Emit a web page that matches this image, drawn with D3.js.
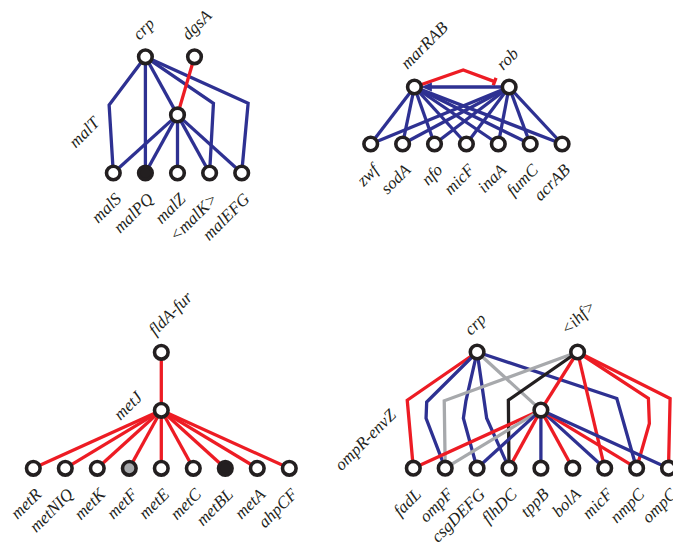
<!DOCTYPE html>
<html>
<head>
<meta charset="utf-8">
<script src="https://cdn.jsdelivr.net/npm/d3@7"></script>
<style>
  body { margin: 0; background: #fff; }
  text { font-family: "Liberation Serif", "Times New Roman", serif; font-style: italic; font-size: 17px; fill: #231f20; }
</style>
</head>
<body>
<svg id="chart" width="673" height="549"></svg>
<script>
// edge types: plus = activation, minus = repression, dual, other
// regulators: [name, column, row] in grid units; genes sit on the last row

// maltose system
var malGenes = ["malS", "malPQ", "malZ", "<malK>", "malEFG"];
var malRegs = [["crp", 1, 0], ["dgsA", 2.53, 0], ["malT", 2, 1]];
var malEdges = [
  ["crp", "malS", "plus", [[-0.13, 0.83]]],
  ["crp", "malPQ", "plus", []],
  ["crp", "malT", "plus", []],
  ["crp", "<malK>", "plus", [[3.12, 0.8]]],
  ["crp", "malEFG", "plus", [[4.2, 0.8]]],
  ["dgsA", "malT", "minus", []],
  ["malT", "malS", "plus", []],
  ["malT", "malPQ", "plus", []],
  ["malT", "malZ", "plus", []],
  ["malT", "<malK>", "plus", []],
  ["malT", "malEFG", "plus", []]
];
var malFilled = { "malPQ": "#231f20" };

// multiple antibiotic resistance
var marGenes = ["zwf", "sodA", "nfo", "micF", "inaA", "fumC", "acrAB"];
var marRegs = [["marRAB", 1.37, 0], ["rob", 4.34, 0]];
var marEdges = [
  ["marRAB", "rob", "minus", [[2.9, -0.3]], "bar"],
  ["rob", "marRAB", "plus", [], "arrow"]
].concat(
  marGenes.map(function(g) { return ["marRAB", g, "plus", []]; }),
  marGenes.map(function(g) { return ["rob", g, "plus", []]; })
);
var marFilled = {};

// methionine
var metGenes = ["metR", "metNIQ", "metK", "metF", "metE", "metC", "metBL", "metA", "ahpCF"];
var metRegs = [["fldA-fur", 4, 0], ["metJ", 4, 1]];
var metEdges = [["fldA-fur", "metJ", "minus", []]].concat(
  metGenes.map(function(g) { return ["metJ", g, "minus", []]; })
);
var metFilled = { "metF": "#a7a9ac", "metBL": "#231f20" };

// osmolarity / flagella
var ompGenes = ["fadL", "ompF", "csgDEFG", "flhDC", "tppB", "bolA", "micF", "nmpC", "ompC"];
var ompRegs = [["crp", 2, 0], ["<ihf>", 5.15, 0], ["ompR-envZ", 4, 1]];
var ompEdges = [
  ["crp", "fadL", "minus", [[-0.19, 0.83]]],
  ["crp", "ompF", "plus", [[0.42, 0.86], [0.4, 1.14]]],
  ["crp", "csgDEFG", "plus", [[1.65, 0.84], [1.57, 1.14]]],
  ["crp", "flhDC", "plus", [[2.3, 1.14]]],
  ["crp", "ompR-envZ", "dual", []],
  ["crp", "nmpC", "plus", [[6.38, 0.8]]],
  ["<ihf>", "ompF", "dual", [[0.97, 0.84]]],
  ["<ihf>", "flhDC", "other", [[2.98, 0.83]]],
  ["<ihf>", "ompR-envZ", "minus", []],
  ["<ihf>", "micF", "minus", []],
  ["<ihf>", "nmpC", "minus", [[7.37, 0.8], [7.4, 1.23]]],
  ["<ihf>", "ompC", "minus", [[8.05, 0.8]]],
  ["ompR-envZ", "fadL", "minus", []],
  ["ompR-envZ", "ompF", "dual", []],
  ["ompR-envZ", "csgDEFG", "plus", []],
  ["ompR-envZ", "flhDC", "minus", []],
  ["ompR-envZ", "tppB", "plus", []],
  ["ompR-envZ", "bolA", "minus", []],
  ["ompR-envZ", "micF", "plus", []],
  ["ompR-envZ", "nmpC", "minus", []],
  ["ompR-envZ", "ompC", "plus", []]
];
var ompFilled = {};

var colour = d3.scaleOrdinal()
  .domain(["plus", "minus", "dual", "other"])
  .range(["#2e3192", "#ed1c24", "#a7a9ac", "#231f20"]);

var svg = d3.select("#chart");

// label overrides: [dx, dy, anchor] from the node centre
var panels = [
  { genes: malGenes, regs: malRegs, edges: malEdges, filled: malFilled, lastRow: 2,
    x0: 113.3, dx: 32.1, yTop: 56.8, yBottom: 173, labelAt: { "malT": [-77, 9, "end"] } },
  { genes: marGenes, regs: marRegs, edges: marEdges, filled: marFilled, lastRow: 1,
    x0: 370.7, dx: 31.9, yTop: 87, yBottom: 144, labelAt: { "marRAB": [-7, -17, "start"] } },
  { genes: metGenes, regs: metRegs, edges: metEdges, filled: metFilled, lastRow: 2,
    x0: 33.3, dx: 32, yTop: 352.3, yBottom: 468.3, labelAt: { "metJ": [-18, -12, "end"] } },
  { genes: ompGenes, regs: ompRegs, edges: ompEdges, filled: ompFilled, lastRow: 2,
    x0: 413.3, dx: 31.9, yTop: 352, yBottom: 468.2,
    labelAt: { "ompR-envZ": [-144, 6, "end"], "<ihf>": [-10, -16, "start"] } }
];

panels.forEach(function(p) {
  var x = d3.scaleLinear().domain([0, 1]).range([p.x0, p.x0 + p.dx]);
  var y = d3.scaleLinear().domain([0, p.lastRow]).range([p.yTop, p.yBottom]);
  var line = d3.line().x(d => x(d[0])).y(d => y(d[1]));
  var g = svg.append("g");

  var pos = {};
  p.regs.forEach(function(r) { pos[r[0]] = [r[1], r[2]]; });
  p.genes.forEach(function(name, i) { pos[name] = [i, p.lastRow]; });

  var edgeG = g.append("g")
    .attr("fill", "none")
    .attr("stroke-width", 3.3)
    .attr("stroke-linejoin", "miter");

  p.edges.forEach(function(e) {
    var pts = [pos[e[0]]].concat(e[3], [pos[e[1]]]);
    var end = e[4];
    if (end) {
      // stop short of the target node and draw an arrowhead or a bar
      var a = pts[pts.length - 2], b = pts[pts.length - 1];
      var ax = x(a[0]), ay = y(a[1]), bx = x(b[0]), by = y(b[1]);
      var len = Math.hypot(bx - ax, by - ay);
      var ux = (bx - ax) / len, uy = (by - ay) / len;
      var px = pts.slice(0, -1).map(d => [x(d[0]), y(d[1])]);
      if (end === "bar") {
        var tx = bx - ux * 15.5, ty = by - uy * 15.5;
        px.push([tx, ty]);
        edgeG.append("path").attr("d", d3.line()(px)).attr("stroke", colour(e[2]));
        edgeG.append("line")
          .attr("x1", tx - uy * 4).attr("y1", ty + ux * 4)
          .attr("x2", tx + uy * 4).attr("y2", ty - ux * 4)
          .attr("stroke", colour(e[2]));
      } else {
        var tipx = bx - ux * 6.5, tipy = by - uy * 6.5;
        var basex = tipx - ux * 11, basey = tipy - uy * 11;
        px.push([basex + ux * 2, basey + uy * 2]);
        edgeG.append("path").attr("d", d3.line()(px)).attr("stroke", colour(e[2]));
        edgeG.append("path")
          .attr("d", d3.line()([[tipx, tipy], [basex - uy * 4.5, basey + ux * 4.5], [basex + uy * 4.5, basey - ux * 4.5]]) + "Z")
          .attr("fill", colour(e[2]))
          .attr("stroke", "none");
      }
    } else {
      edgeG.append("path").attr("d", line(pts)).attr("stroke", colour(e[2]));
    }
  });

  var nodes = Object.keys(pos).map(function(k) { return { name: k, c: pos[k][0], r: pos[k][1] }; });

  g.append("g").selectAll("circle")
    .data(nodes)
    .enter()
    .append("circle")
    .attr("cx", d => x(d.c))
    .attr("cy", d => y(d.r))
    .attr("r", 6.8)
    .attr("fill", d => p.filled[d.name] || "#fff")
    .attr("stroke", "#231f20")
    .attr("stroke-width", 3.6);

  function labelSpot(d) {
    if (p.labelAt[d.name]) return p.labelAt[d.name];
    if (d.r === p.lastRow) return [9, 27, "end"];
    return [-6, -16, "start"];
  }

  g.append("g").selectAll("text")
    .data(nodes)
    .enter()
    .append("text")
    .attr("text-anchor", d => labelSpot(d)[2])
    .attr("transform", function(d) {
      var s = labelSpot(d);
      return `translate(${x(d.c) + s[0]}, ${y(d.r) + s[1]}) rotate(-45)`;
    })
    .text(d => d.name);
});
</script>
</body>
</html>
